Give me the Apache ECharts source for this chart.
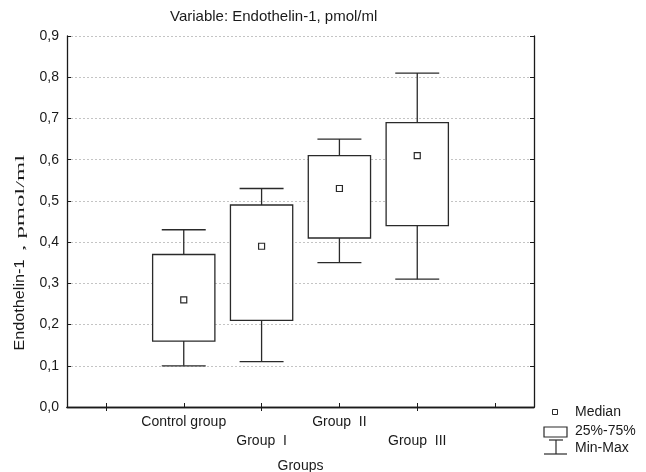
<!DOCTYPE html>
<html>
<head>
<meta charset="utf-8">
<script src="https://cdn.jsdelivr.net/npm/echarts@6/dist/echarts.min.js"></script>
<style>
  html, body { margin: 0; padding: 0; background: #fff; }
  #chart { width: 646px; height: 472px; }
</style>
</head>
<body>
<div id="chart"></div>
<script>
// categories (empty slots at both ends keep the outer half-ticks)
var categories = ['', 'Control group', 'Group  I', 'Group  II', 'Group  III', ''];
var groupIndex = [1, 2, 3, 4];
var minVals = [0.10, 0.11, 0.35, 0.31];
var q1Vals = [0.16, 0.21, 0.41, 0.44];
var medianVals = [0.26, 0.39, 0.53, 0.61];
var q3Vals = [0.37, 0.49, 0.61, 0.69];
var maxVals = [0.43, 0.53, 0.65, 0.81];
var yTicks = [0, 0.9, 0.1]; // min, max, step

var lineColor = '#2a2a2a';
var textColor = '#1a1a1a';
var font = 'Liberation Sans';

var rows = groupIndex.map(function (g, i) {
  return [g, minVals[i], q1Vals[i], medianVals[i], q3Vals[i], maxVals[i]];
});

function renderWhisker(params, api) {
  var x = api.value(0);
  var pMin = api.coord([x, api.value(1)]);
  var pQ1 = api.coord([x, api.value(2)]);
  var pQ3 = api.coord([x, api.value(4)]);
  var pMax = api.coord([x, api.value(5)]);
  var half = api.size([1, 0])[0] * 0.565 / 2;
  var style = { stroke: lineColor, lineWidth: 1.3 };
  return {
    type: 'group',
    children: [
      { type: 'line', shape: { x1: pMax[0], y1: pMax[1], x2: pQ3[0], y2: pQ3[1] }, style: style },
      { type: 'line', shape: { x1: pQ1[0], y1: pQ1[1], x2: pMin[0], y2: pMin[1] }, style: style },
      { type: 'line', shape: { x1: pMax[0] - half, y1: pMax[1], x2: pMax[0] + half, y2: pMax[1] }, style: style },
      { type: 'line', shape: { x1: pMin[0] - half, y1: pMin[1], x2: pMin[0] + half, y2: pMin[1] }, style: style }
    ]
  };
}

function renderBox(params, api) {
  var x = api.value(0);
  var pQ1 = api.coord([x, api.value(2)]);
  var pQ3 = api.coord([x, api.value(4)]);
  var w = api.size([1, 0])[0] * 0.8;
  return {
    type: 'rect',
    shape: { x: pQ3[0] - w / 2, y: pQ3[1], width: w, height: pQ1[1] - pQ3[1] },
    style: { fill: '#fff', stroke: lineColor, lineWidth: 1.3 }
  };
}

function renderMedian(params, api) {
  var x = api.value(0);
  var p = api.coord([x, api.value(3)]);
  return {
    type: 'rect',
    shape: { x: p[0] - 3, y: p[1] - 3, width: 6, height: 6 },
    style: { fill: '#fff', stroke: lineColor, lineWidth: 1.2 }
  };
}

var dom = document.getElementById('chart');
var myChart = echarts.init(dom);

var axisLine = { show: true, lineStyle: { color: textColor, width: 1.3 } };

var option = {
  animation: false,
  textStyle: { fontFamily: font },
  title: {
    text: 'Variable: Endothelin-1, pmol/ml',
    left: 165,
    top: 4,
    textStyle: { fontFamily: font, fontSize: 15, fontWeight: 'normal', color: textColor }
  },
  grid: { left: 67, right: 112, top: 36, bottom: 65, outerBoundsMode: 'none' },
  xAxis: [
    {
      type: 'category',
      data: categories,
      position: 'bottom',
      axisLine: axisLine,
      axisTick: { show: true, inside: true, length: 4, alignWithLabel: true, lineStyle: { color: textColor } },
      axisLabel: {
        interval: 0,
        color: textColor,
        fontSize: 14,
        margin: 6,
        lineHeight: 19,
        formatter: function (v, i) { return i % 2 === 0 ? '\n' + v : v; }
      },
      name: 'Groups',
      nameLocation: 'middle',
      nameGap: 52,
      nameMoveOverlap: false,
      nameTextStyle: { color: textColor, fontSize: 14 },
      splitLine: { show: false }
    },
    {
      type: 'category',
      data: categories,
      position: 'top',
      axisLine: axisLine,
      axisTick: { show: true, inside: true, length: 4, alignWithLabel: true, lineStyle: { color: textColor } },
      axisLabel: { show: false },
      splitLine: { show: false }
    }
  ],
  yAxis: [
    {
      type: 'value',
      min: yTicks[0],
      max: yTicks[1],
      interval: yTicks[2],
      position: 'left',
      axisLine: axisLine,
      axisTick: { show: true, inside: true, length: 4, lineStyle: { color: textColor } },
      axisLabel: {
        color: textColor,
        fontSize: 14,
        margin: 8,
        formatter: function (v) { return v.toFixed(1).replace('.', ','); }
      },
      splitLine: { show: true, lineStyle: { color: '#c4c4c4', type: [2, 2], width: 1 } }
    },
    {
      type: 'value',
      min: yTicks[0],
      max: yTicks[1],
      interval: yTicks[2],
      position: 'right',
      axisLine: axisLine,
      axisTick: { show: true, inside: true, length: 4, lineStyle: { color: textColor } },
      axisLabel: { show: false },
      splitLine: { show: false }
    }
  ],
  series: [
    {
      name: 'Min-Max',
      type: 'custom',
      renderItem: renderWhisker,
      data: rows,
      encode: { x: 0, y: [1, 5] },
      silent: true
    },
    {
      name: '25%-75%',
      type: 'custom',
      renderItem: renderBox,
      data: rows,
      encode: { x: 0, y: [2, 4] },
      silent: true
    },
    {
      name: 'Median',
      type: 'custom',
      renderItem: renderMedian,
      data: rows,
      encode: { x: 0, y: 3 },
      silent: true
    }
  ],
  graphic: [
    // y axis name: sans part + stretched serif unit, as in the original
    {
      type: 'text',
      x: 20,
      y: 305,
      rotation: Math.PI / 2,
      scaleX: 1.08,
      style: {
        text: 'Endothelin-1',
        fontFamily: font,
        fontSize: 15,
        fill: textColor,
        align: 'center',
        verticalAlign: 'middle'
      }
    },
    {
      type: 'text',
      x: 21,
      y: 206,
      rotation: Math.PI / 2,
      scaleX: 1.9,
      style: {
        text: ' , pmol/ml',
        fontFamily: 'Liberation Serif',
        fontSize: 13,
        fill: textColor,
        align: 'center',
        verticalAlign: 'middle'
      }
    },
    // legend
    { type: 'rect', shape: { x: 552.5, y: 409.5, width: 5, height: 5 }, style: { fill: '#fff', stroke: lineColor, lineWidth: 1 } },
    { type: 'text', x: 575, y: 412, style: { text: 'Median', fontFamily: font, fontSize: 14, fill: textColor, verticalAlign: 'middle' } },
    { type: 'rect', shape: { x: 544, y: 427, width: 23, height: 10 }, style: { fill: '#fff', stroke: lineColor, lineWidth: 1.2 } },
    { type: 'text', x: 575, y: 431, style: { text: '25%-75%', fontFamily: font, fontSize: 14, fill: textColor, verticalAlign: 'middle' } },
    { type: 'line', shape: { x1: 549, y1: 440, x2: 563, y2: 440 }, style: { stroke: lineColor, lineWidth: 1.2 } },
    { type: 'line', shape: { x1: 556, y1: 440, x2: 556, y2: 454 }, style: { stroke: lineColor, lineWidth: 1.2 } },
    { type: 'line', shape: { x1: 544, y1: 454, x2: 567, y2: 454 }, style: { stroke: lineColor, lineWidth: 1.2 } },
    { type: 'text', x: 575, y: 448, style: { text: 'Min-Max', fontFamily: font, fontSize: 14, fill: textColor, verticalAlign: 'middle' } }
  ]
};

if (option && typeof option === "object") {
  myChart.setOption(option, true);
}
</script>
</body>
</html>
